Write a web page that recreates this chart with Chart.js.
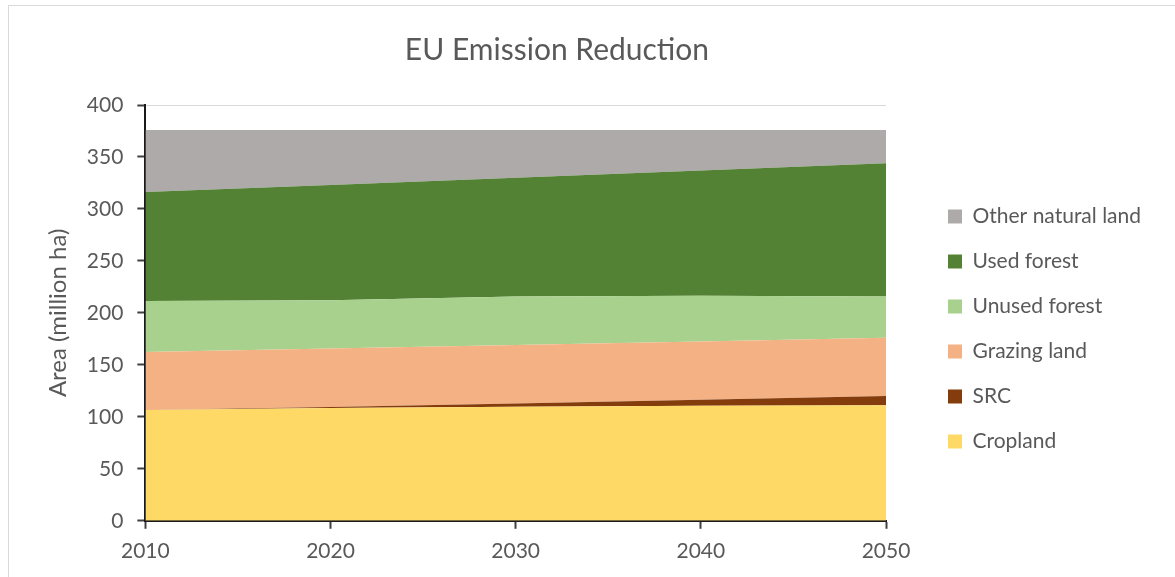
<!DOCTYPE html>
<html>
<head>
<meta charset="utf-8">
<script src="https://cdn.jsdelivr.net/npm/chart.js@4"></script>
<style>
  html, body { margin: 0; padding: 0; background: #fff; }
  #frame {
    position: absolute; left: 8px; top: 5px; width: 1167px; height: 572px;
    border-left: 1px solid #d9d9d9; border-top: 1px solid #d9d9d9;
  }
</style>
</head>
<body>
<div id="frame"><canvas id="chart"></canvas></div>
<script>
// values in million ha
const years = ["2010", "2020", "2030", "2040", "2050"];
const cropland = [106.5, 108.4, 109.6, 110.6, 111.2];
const src = [0, 1.1, 3.2, 5.8, 8.8];
const grazingLand = [56, 56.2, 56.4, 56.1, 56];
const unusedForest = [49, 46.5, 46.5, 44, 39.7];
const usedForest = [104.8, 110.8, 114.3, 120.5, 128.3];
const otherNaturalLand = [59.7, 53, 46, 39, 32];
const yTicks = [0, 50, 100, 150, 200, 250, 300, 350, 400];

const textColor = "#595959";
const fontFamily = "Lato, 'Open Sans', sans-serif";

function area(label, data, color, fill) {
  return {
    label: label,
    data: data,
    backgroundColor: color,
    borderColor: color,
    borderWidth: 0,
    pointRadius: 0,
    tension: 0,
    fill: fill,
  };
}

new Chart(document.getElementById("chart"), {
  type: "line",
  data: {
    labels: years,
    datasets: [
      area("Cropland", cropland, "#FFD966", "origin"),
      area("SRC", src, "#843C0C", "-1"),
      area("Grazing land", grazingLand, "#F4B183", "-1"),
      area("Unused forest", unusedForest, "#A9D18E", "-1"),
      area("Used forest", usedForest, "#548235", "-1"),
      area("Other natural land", otherNaturalLand, "#AEAAAA", "-1"),
    ],
  },
  options: {
    responsive: true,
    maintainAspectRatio: false,
    animation: false,
    layout: { padding: { left: 0, right: 25, top: 0, bottom: 4 } },
    plugins: {
      title: {
        display: true,
        // trailing spaces nudge the centred title a bit to the left
        text: "EU Emission Reduction      ",
        color: textColor,
        font: { family: fontFamily, size: 30, weight: "normal" },
        padding: { top: 26, bottom: 37 },
      },
      legend: {
        position: "right",
        align: "start",
        reverse: true,
        // empty title only pushes the items down
        title: { display: true, text: " ", font: { size: 10 }, padding: { top: 164, bottom: 0 } },
        labels: {
          color: textColor,
          font: { family: fontFamily, size: 21 },
          boxWidth: 14,
          boxHeight: 14,
          padding: 24,
        },
      },
      tooltip: { enabled: false },
    },
    scales: {
      x: {
        offset: false,
        grid: { drawOnChartArea: false, tickLength: 8, tickColor: "#404040", tickWidth: 2 },
        border: { color: "#1a1a1a", width: 2 },
        ticks: { color: textColor, font: { family: fontFamily, size: 21 }, padding: 10, maxRotation: 0 },
      },
      y: {
        stacked: true,
        min: 0,
        max: 400,
        afterBuildTicks: function (scale) {
          scale.ticks = yTicks.map(function (v) { return { value: v }; });
        },
        grid: { color: "#d9d9d9", tickLength: 8, tickColor: "#404040", tickWidth: 2 },
        border: { color: "#1a1a1a", width: 2 },
        ticks: { color: textColor, font: { family: fontFamily, size: 21 }, padding: 14 },
        title: {
          display: true,
          text: "Area (million ha)",
          color: textColor,
          font: { family: fontFamily, size: 24 },
          padding: { top: 35, bottom: 0 },
        },
      },
      // spacer between plot and legend
      gap: {
        position: "right",
        display: false,
        afterFit: function (scale) { scale.width = 38; },
      },
    },
  },
});
</script>
</body>
</html>
